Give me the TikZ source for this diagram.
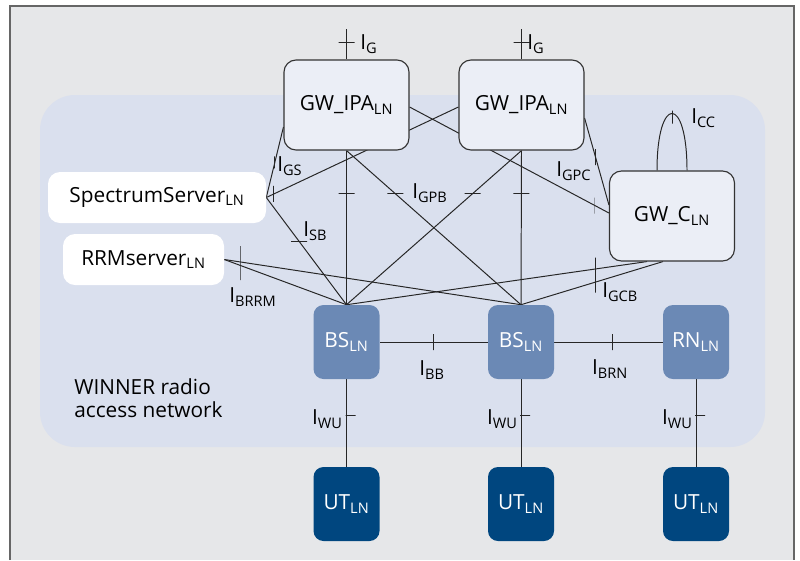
\documentclass[tikz,border=0pt]{standalone}
\usepackage{fontspec}
\setmainfont{Open Sans}
\usetikzlibrary{calc,positioning}

\definecolor{framegray}{HTML}{E6E7E9}
\definecolor{ranblue}{HTML}{DAE0EE}
\definecolor{gwfill}{HTML}{EBEEF6}
\definecolor{bsblue}{HTML}{6B89B5}
\definecolor{utblue}{HTML}{00467F}

\newcommand{\px}{0.025cm}
\newcommand{\ifc}[1]{I\textsubscript{#1}}
\newcommand{\subLN}{\textsubscript{LN}}

\pgfdeclarelayer{region}
\pgfdeclarelayer{links}
\pgfsetlayers{region,links,main}

\tikzset{
  every node/.style={font=\fontsize{14.8}{16.5}\selectfont},
  gw/.style={draw=black!80, fill=gwfill, line width=0.8pt,
    rounded corners=12*\px, minimum width=125*\px, minimum height=90*\px},
  server/.style={fill=white, rounded corners=12*\px, minimum height=51*\px},
  bs/.style={fill=bsblue, text=white, rounded corners=10*\px,
    minimum width=66*\px, minimum height=74*\px},
  ut/.style={bs, fill=utblue},
  link/.style={line width=0.7pt, black!85},
  htick/.style={draw=black!85, line width=0.7pt, inner sep=0pt,
    minimum width=16*\px, minimum height=0pt},
  vtick/.style={draw=black!85, line width=0.7pt, inner sep=0pt,
    minimum height=16*\px, minimum width=0pt},
  iflabel/.style={inner sep=0pt},
}

\begin{document}
\begin{tikzpicture}[x=\px, y=-\px]
  \useasboundingbox (0,0) rectangle (800,560);

  % gateways and servers
  \node[gw] (gwa) at (346.5,105) {GW\_IPA\subLN};
  \node[gw] (gwb) at (521.5,105) {GW\_IPA\subLN};
  \node[gw] (gwc) at (672,216) {GW\_C\subLN};
  \node[server, minimum width=218*\px] (ss) at (157,197.5) {SpectrumServer\subLN};
  \node[server, minimum width=161*\px] (rrm) at (143.5,259.5) {RRMserver\subLN};

  % base stations, relay node and terminals
  \node[bs] (bsa) at (346.5,342) {BS\subLN};
  \node[bs] (bsb) at (521,342) {BS\subLN};
  \node[bs] (rn) at (696,342) {RN\subLN};
  \node[ut] (uta) at (346.5,504) {UT\subLN};
  \node[ut] (utb) at (521,504) {UT\subLN};
  \node[ut] (utc) at (696,504) {UT\subLN};

  \node[align=left, anchor=west, inner sep=0pt] (ran) at (74,398)
    {WINNER radio\\access network};

  % frame and radio access network area
  \begin{pgfonlayer}{region}
    \fill[framegray] (10,6) rectangle (794,560);
    \draw[black!60, line width=1.4pt] (10,560) -- (10,6) -- (794,6) -- (794,560);
    \fill[ranblue, rounded corners=35*\px] (40,95) rectangle (765,447);
  \end{pgfonlayer}

  \begin{pgfonlayer}{links}
    % I_G towards the outside
    \coordinate (gta) at ($(gwa.north)+(0,-30)$);
    \coordinate (gtb) at ($(gwb.north)+(0,-30)$);
    \draw[link] (gta) -- node[htick, pos=0.43] {} (gwa.north);
    \draw[link] (gtb) -- node[htick, pos=0.43] {} (gwb.north);

    % gateways to base stations
    \draw[link] (gwa.south) -- node[htick, pos=0.28] {} (bsa.north);
    \draw[link] (gwb.south) -- node[htick, pos=0.28] {} (bsb.north);
    \draw[link] (gwa.south) -- node[htick, pos=0.28] {} (bsb.north);
    \draw[link] (gwb.south) -- node[htick, pos=0.28] {} (bsa.north);

    % gateways to spectrum server and GW_C
    \draw[link] ($(gwa.west)+(0,22)$) -- node[vtick, pos=0.5, minimum height=12*\px] {} (ss.east);
    \draw[link] ($(gwb.west)+(0,2)$) -- node[vtick, pos=0.96] {} (ss.east);
    \draw[link] ($(gwa.east)+(0,2)$) -- node[vtick, pos=0.93] {} ($(gwc.west)+(0,-3)$);
    \draw[link] ($(gwb.east)+(0,13)$) -- node[vtick, pos=0.45] {} ($(gwc.west)+(0,-11)$);

    % spectrum server, RRM server and GW_C to base stations
    \draw[link] (ss.east) -- node[htick, pos=0.41] {} (bsa.north);
    \draw[link] (rrm.east) -- (bsa.north);
    \draw[link] (rrm.east) -- (bsb.north);
    \node[vtick, minimum height=34*\px] (tbrrm) at (240,263) {};
    \draw[link] ($(gwc.south)+(-25,0)$) -- (bsa.north);
    \draw[link] ($(gwc.south)+(-9,0)$) -- (bsb.north);
    \node[vtick, minimum height=35*\px] (tgcb) at (595,275) {};

    % GW_C loop
    \draw[link] ($(gwc.north)+(-15,0)$) .. controls +(0,-76) and +(0,-76) .. ($(gwc.north)+(15,0)$);
    \node[vtick, minimum height=13*\px] (tcc) at (672,117) {};

    % between base stations and relay
    \draw[link] (bsa.east) -- node[vtick, pos=0.5] {} (bsb.west);
    \draw[link] (bsb.east) -- node[vtick, pos=0.54] {} (rn.west);

    % radio links to terminals
    \draw[link] (bsa.south) -- node[htick, pos=0.41, minimum width=10*\px, xshift=4*\px] {} (uta.north);
    \draw[link] (bsb.south) -- node[htick, pos=0.41, minimum width=10*\px, xshift=4*\px] {} (utb.north);
    \draw[link] (rn.south) -- node[htick, pos=0.41, minimum width=10*\px, xshift=4*\px] {} (utc.north);
  \end{pgfonlayer}

  % interface labels
  \node[iflabel, anchor=west] (lga) at (360,44) {\ifc{G}};
  \node[iflabel, anchor=west] (lgb) at (527,44) {\ifc{G}};
  \node[iflabel, anchor=west] (lcc) at (691,118) {\ifc{CC}};
  \node[iflabel, anchor=west] (lgs) at (277,166) {\ifc{GS}};
  \node[iflabel, anchor=west] (lgpc) at (556,171) {\ifc{GPC}};
  \node[iflabel, anchor=west] (lgpb) at (412,193) {\ifc{GPB}};
  \node[iflabel, anchor=west] (lsb) at (303,231) {\ifc{SB}};
  \node[iflabel, anchor=west] (lgcb) at (602,292) {\ifc{GCB}};
  \node[iflabel, anchor=west] (lbrrm) at (229,297) {\ifc{BRRM}};
  \node[iflabel] (lbb) at (432,370) {\ifc{BB}};
  \node[iflabel] (lbrn) at (610,369) {\ifc{BRN}};
  \node[iflabel, anchor=east] (lwua) at (343,419) {\ifc{WU}};
  \node[iflabel, anchor=east] (lwub) at (518,419) {\ifc{WU}};
  \node[iflabel, anchor=east] (lwuc) at (693,419) {\ifc{WU}};
\end{tikzpicture}
\end{document}
